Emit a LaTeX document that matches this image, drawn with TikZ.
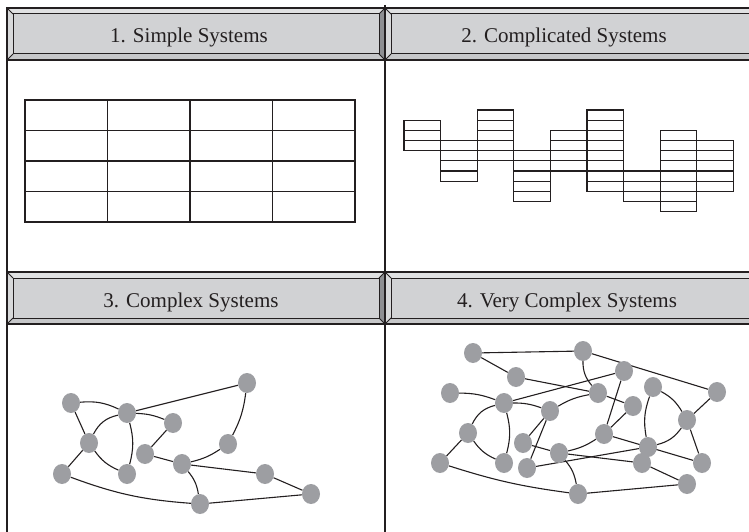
\documentclass[tikz,border=0pt]{standalone}
\usepackage{fontspec}
\setmainfont{Liberation Serif}
\usetikzlibrary{shapes.geometric,backgrounds}

\definecolor{inkc}{HTML}{231F20}
\definecolor{hdrfill}{HTML}{D1D2D4}
\definecolor{bevlight}{HTML}{E0E1E2}
\definecolor{bevside}{HTML}{D8D9DA}
\definecolor{bevlow}{HTML}{C6C7C9}
\definecolor{bevdark}{HTML}{8E8F92}
\definecolor{nodegray}{HTML}{9D9EA2}

\tikzset{
  frameline/.style={draw=inkc, line width=1.4pt},
  bevelline/.style={draw=inkc, line width=1.0pt},
  gridline/.style={draw=inkc, line width=1.2pt},
  vertex/.style={ellipse, fill=nodegray, minimum width=18pt, minimum height=20pt, inner sep=0pt},
  link/.style={draw=inkc, line width=1.1pt},
  title/.style={font=\fontsize{21}{25}\selectfont, text=inkc, anchor=base, inner sep=0pt},
}

% bevelled title bar: #1 left x, #2 bottom y, #3 right x, #4 top y
\newcommand{\bevelbar}[4]{%
  \fill[hdrfill] ({#1+6},{#2+6}) rectangle ({#3-6},{#4-6});
  \fill[bevlight] (#1,#4) -- (#3,#4) -- ({#3-6},{#4-6}) -- ({#1+6},{#4-6}) -- cycle;
  \fill[bevlow] (#1,#2) -- (#3,#2) -- ({#3-6},{#2+6}) -- ({#1+6},{#2+6}) -- cycle;
  \fill[bevside] (#1,#2) -- (#1,#4) -- ({#1+6},{#4-6}) -- ({#1+6},{#2+6}) -- cycle;
  \fill[bevdark] (#3,#2) -- (#3,#4) -- ({#3-6},{#4-6}) -- ({#3-6},{#2+6}) -- cycle;
  \draw[bevelline] ({#1+6},{#2+6}) rectangle ({#3-6},{#4-6});
  \draw[bevelline] (#1,#4) -- ({#1+6},{#4-6}) (#3,#4) -- ({#3-6},{#4-6})
                   (#1,#2) -- ({#1+6},{#2+6}) (#3,#2) -- ({#3-6},{#2+6});
  \draw[frameline] (#1,#2) rectangle (#3,#4);
}

\begin{document}
\begin{tikzpicture}[x=1pt,y=1pt]
\useasboundingbox (0,0) rectangle (749,531);
\clip (0,0) rectangle (749,531);

% outer frame and panel dividers
\draw[frameline] (7,523) -- (7,-5);
\draw[frameline] (385,526) -- (385,-5);
\draw[frameline] (7,259) -- (760,259);

% title bars
\bevelbar{7}{471}{385}{523}
\bevelbar{385}{471}{760}{523}
\bevelbar{7}{207}{385}{259}
\bevelbar{385}{207}{760}{259}

\node[title] (t1) at (189,488) {1. Simple Systems};
\node[title] (t2) at (564,488) {2. Complicated Systems};
\node[title] (t3) at (191,224) {3. Complex Systems};
\node[title] (t4) at (567,224) {4. Very Complex Systems};

% panel 1: regular 4x4 grid
\foreach \i in {0,...,3}
  \foreach \j in {0,...,3}
    \draw[gridline] ({25+82.5*\i},{431-30.5*\j}) rectangle ({107.5+82.5*\i},{400.5-30.5*\j});

% panel 2: staggered stacks of cells (column / first cell / last cell)
\foreach \c/\a/\b in {0/1/3, 1/3/6, 2/0/4, 3/4/8, 4/2/5, 5/0/7, 6/6/8, 7/2/9, 8/3/7}
  \foreach \k in {\a,...,\b}
    \draw[gridline] ({404+36.6*\c},{421-10.17*\k}) rectangle ({440.6+36.6*\c},{410.83-10.17*\k});

% panel 3: complex network
\node[vertex] (A) at (71,128) {};
\node[vertex] (B) at (127,118) {};
\node[vertex] (C) at (173,108) {};
\node[vertex] (D) at (247,148) {};
\node[vertex] (E) at (89,88) {};
\node[vertex] (F) at (145,77) {};
\node[vertex] (G) at (228,87) {};
\node[vertex] (H) at (182,67) {};
\node[vertex] (I) at (62,57) {};
\node[vertex] (J) at (127,57) {};
\node[vertex] (K) at (265,57) {};
\node[vertex] (L) at (200,27) {};
\node[vertex] (M) at (311,37) {};

\begin{scope}[on background layer]
\draw[link] (A) to[bend left=15] (B);
\draw[link] (B) -- (D);
\draw[link] (B) to[bend left=10] (C);
\draw[link] (A) -- (E);
\draw[link] (E) to[bend left=25] (B);
\draw[link] (B) to[bend left=15] (J);
\draw[link] (C) -- (F);
\draw[link] (E) -- (I);
\draw[link] (E) to[bend right=15] (J);
\draw[link] (F) -- (H);
\draw[link] (H) to[bend right=10] (G);
\draw[link] (G) to[bend right=10] (D);
\draw[link] (H) -- (K);
\draw[link] (H) to[bend left=15] (L);
\draw[link] (I) to[bend right=8] (L);
\draw[link] (L) -- (M);
\draw[link] (K) -- (M);
\end{scope}

% panel 4: very complex network
\node[vertex] (a) at (473,178) {};
\node[vertex] (b) at (583,180) {};
\node[vertex] (c) at (516,154) {};
\node[vertex] (d) at (624,160) {};
\node[vertex] (e) at (450,138) {};
\node[vertex] (f) at (504,128) {};
\node[vertex] (g) at (550,120) {};
\node[vertex] (h) at (598,138) {};
\node[vertex] (i) at (633,125) {};
\node[vertex] (j) at (653,144) {};
\node[vertex] (k) at (717,139) {};
\node[vertex] (l) at (687,111) {};
\node[vertex] (m) at (468,98) {};
\node[vertex] (n) at (604,97) {};
\node[vertex] (o) at (523,88) {};
\node[vertex] (p) at (559,78) {};
\node[vertex] (q) at (648,84) {};
\node[vertex] (r) at (440,68) {};
\node[vertex] (s) at (504,68) {};
\node[vertex] (t) at (527,63) {};
\node[vertex] (u) at (642,68) {};
\node[vertex] (v) at (702,68) {};
\node[vertex] (w) at (687,47) {};
\node[vertex] (x) at (578,37) {};

\begin{scope}[on background layer]
\draw[link] (a) -- (b);
\draw[link] (a) -- (c);
\draw[link] (c) -- (h);
\draw[link] (b) to[bend right=20] (h);
\draw[link] (b) -- (k);
\draw[link] (d) -- (f);
\draw[link] (d) -- (n);
\draw[link] (e) to[bend left=10] (f);
\draw[link] (f) to[bend left=10] (g);
\draw[link] (m) to[bend left=25] (f);
\draw[link] (f) to[bend left=15] (s);
\draw[link] (g) to[bend left=10] (h);
\draw[link] (g) -- (o);
\draw[link] (g) -- (t);
\draw[link] (o) -- (p);
\draw[link] (p) to[bend right=10] (n);
\draw[link] (p) to[bend left=15] (x);
\draw[link] (p) -- (u);
\draw[link] (h) -- (i);
\draw[link] (i) -- (n);
\draw[link] (j) to[bend right=15] (q);
\draw[link] (j) to[bend left=15] (l);
\draw[link] (k) -- (l);
\draw[link] (l) -- (v);
\draw[link] (l) to[bend left=20] (q);
\draw[link] (n) -- (v);
\draw[link] (t) -- (q);
\draw[link] (u) -- (w);
\draw[link] (r) -- (m);
\draw[link] (r) to[bend right=5] (x);
\draw[link] (x) -- (w);
\draw[link] (m) to[bend right=15] (s);
\end{scope}
\end{tikzpicture}
\end{document}
